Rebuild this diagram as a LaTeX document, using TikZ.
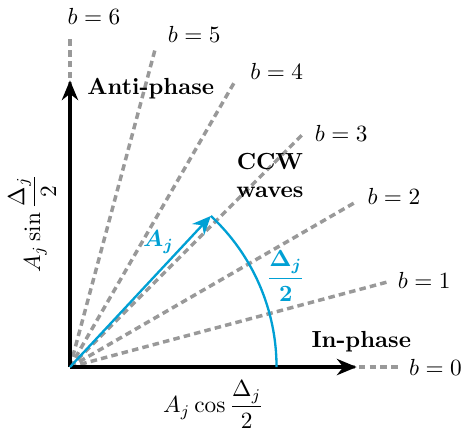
\documentclass[tikz,border=0pt]{standalone}
\usepackage{amsmath}
\usetikzlibrary{arrows.meta, calc}

\definecolor{phaseblue}{RGB}{0,160,212}

\begin{document}
\begin{tikzpicture}[
    >=Stealth, % Default arrow tip
    phaseline/.style={dash pattern=on 2.8pt off 1.8pt, draw=black!40, line width=1.5pt}, % Style for the b rays
    axis/.style={-{Stealth[length=8.5pt, width=7pt]}, line width=1.6pt},
    vec/.style={-{Stealth[length=8pt, width=7pt]}, line width=1pt, phaseblue}
]

\useasboundingbox (-1.057,-0.967) rectangle (5.906,5.544);

\coordinate (O) at (0,0);

% Rays b = 0..6, 15 degrees apart
\foreach \b/\dx/\dy in {0/0/0, 1/0/0.02, 2/0.04/0.07, 3/0.04/0, 4/0.1/0.13, 5/0.06/0.19, 6/-0.16/0.3}{
    \draw[phaseline] (O) -- (\b*15:5) coordinate (e\b);
    \node[anchor=west] (lab\b) at ($(e\b)+(\dx,\dy)$) {$b=\b$};
}

% Axes
\coordinate (xend) at (4.33,0);
\coordinate (yend) at (0,4.33);
\draw[axis] (O) -- (xend);
\draw[axis] (O) -- (yend);

\node (xlab) at (2.17,-0.57) {$A_j\cos\dfrac{\Delta_j}{2}$};
\node[rotate=90] (ylab) at (-0.57,2.17) {$A_j\sin\dfrac{\Delta_j}{2}$};

\node[anchor=west, font=\bfseries] (anti) at (0.14,4.21) {Anti-phase};
\node[font=\bfseries] (inph) at (4.40,0.39) {In-phase};
\node[align=center, font=\bfseries] (ccw) at (3.02,2.89) {CCW\\waves};

% Phasor A_j and its angle
\coordinate (Aj) at (47:3.12);
\draw[vec] (O) -- (Aj);
\draw[line width=1pt, phaseblue] (Aj) arc (47:0:3.12);
\node[phaseblue] (Ajlab) at (1.34,1.89) {$\boldsymbol{A_j}$};
\node[phaseblue] (anglab) at (3.26,1.37) {$\boldsymbol{\dfrac{\Delta_j}{2}}$};

\end{tikzpicture}
\end{document}
